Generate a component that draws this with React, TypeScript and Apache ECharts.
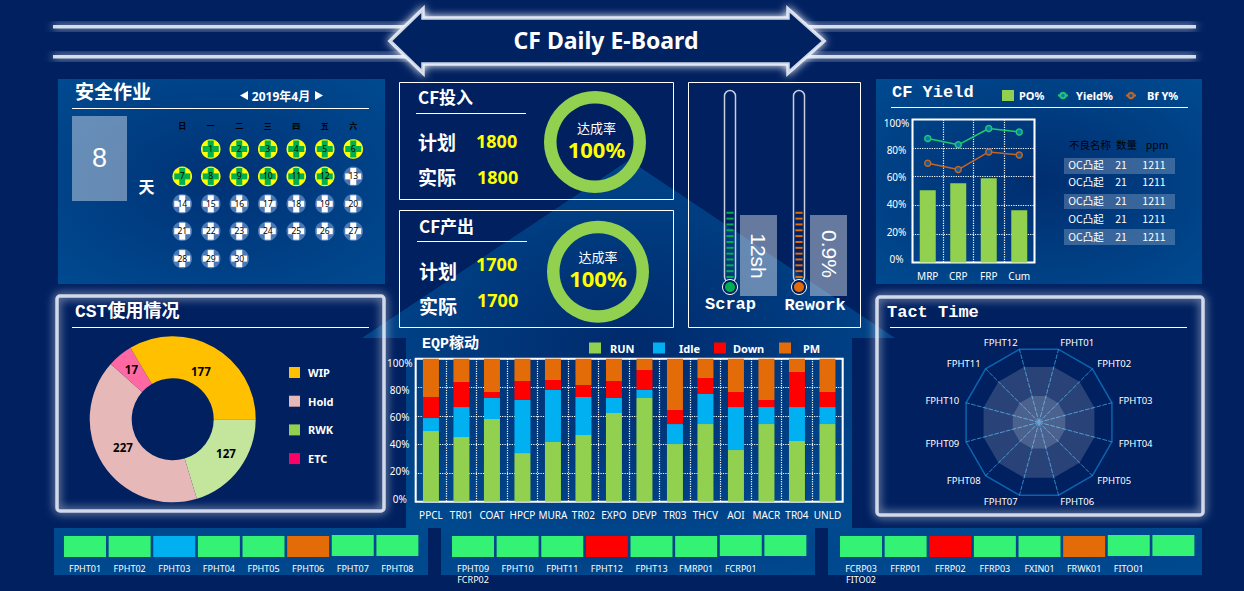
import React, { useEffect, useRef } from "react";
import * as echarts from "echarts";

const SANS = '"Noto Sans", "Noto Sans CJK SC", sans-serif';
const CJK = '"Noto Sans CJK SC", "Noto Sans", sans-serif';
const MONO = '"Liberation Mono", "Noto Sans CJK SC", monospace';

// ---- data ----
const weekHeaders = ["日", "一", "二", "三", "四", "五", "六"];
const weekRows = ["w1", "w2", "w3", "w4", "w5"];
const calendarRows: (number | null)[][] = [
  [null, 1, 2, 3, 4, 5, 6],
  [7, 8, 9, 10, 11, 12, 13],
  [14, 15, 16, 17, 18, 19, 20],
  [21, 22, 23, 24, 25, 26, 27],
  [28, 29, 30, null, null, null, null],
];
const lastSafeDay = 12;

const inputRate = [1800, 0];
const outputRate = [1700, 0];

const thermoNames = ["Scrap", "Rework"];
const thermoLevels = [35, 35];

const yieldCats = ["MRP", "CRP", "FRP", "Cum"];
const poValues = [50.5, 55.5, 59, 36.5];
const yieldValues = [86.7, 82.3, 93.7, 91.3];
const bfValues = [69.4, 65, 77.3, 75.2];

const defectHeader = ["不良名称", "数量", "ppm"];
const defectRows = [
  ["OC凸起", "21", "1211"],
  ["OC凸起", "21", "1211"],
  ["OC凸起", "21", "1211"],
  ["OC凸起", "21", "1211"],
  ["OC凸起", "21", "1211"],
];

const cstNames = ["RWK", "Hold", "ETC", "WIP"];
const cstLabels = [127, 227, 17, 177];
const cstDrawnShare = [20.3, 41.3, 4.9, 33.5];
const cstLabelNudges = [[1, -4], [5, -7], [0, 0], [-4, 9]];

const eqpCats = ["PPCL", "TR01", "COAT", "HPCP", "MURA", "TR02", "EXPO", "DEVP", "TR03", "THCV", "AOI", "MACR", "TR04", "UNLD"];
const eqpRun = [49.4, 45.2, 57.8, 34, 41.7, 46.6, 62, 72.5, 40.3, 54.3, 36.1, 54.3, 42.4, 54.3];
const eqpIdle = [9.1, 21, 14.7, 37.1, 36.4, 26.6, 10.5, 5.6, 14, 21, 30.1, 11.9, 23.8, 11.9];
const eqpDown = [14.7, 17.5, 4.2, 13.3, 7, 8.4, 11.9, 14, 9.8, 11.2, 10.5, 4.9, 24.5, 10.5];
const eqpPm = [26.8, 16.3, 23.3, 15.6, 14.9, 18.4, 15.6, 7.9, 35.9, 13.5, 23.3, 28.9, 9.3, 23.3];

const radarNames = ["FPHT01", "FPHT02", "FPHT03", "FPHT04", "FPHT05", "FPHT06", "FPHT07", "FPHT08", "FPHT09", "FPHT10", "FPHT11", "FPHT12"];
const tactOuter = [76, 76, 76, 76, 76, 76, 76, 76, 76, 76, 76, 76];
const tactInner = [36, 36, 36, 36, 36, 36, 36, 36, 36, 36, 36, 36];

const stripOneNames = ["FPHT01", "FPHT02", "FPHT03", "FPHT04", "FPHT05", "FPHT06", "FPHT07", "FPHT08"];
const stripOneStates = ["run", "run", "idle", "run", "run", "pm", "run", "run"];
const stripTwoNames = ["FPHT09\nFCRP02", "FPHT10", "FPHT11", "FPHT12", "FPHT13", "FMRP01", "FCRP01", ""];
const stripTwoStates = ["run", "run", "run", "down", "run", "run", "run", "run"];
const stripThreeNames = ["FCRP03\nFITO02", "FFRP01", "FFRP02", "FFRP03", "FXIN01", "FRWK01", "FITO01", ""];
const stripThreeStates = ["run", "run", "down", "run", "run", "pm", "run", "run"];

const stateColors: Record<string, string> = { run: "#33F274", idle: "#00B0F0", down: "#FF0000", pm: "#E36C09" };
const NAVY = "#002060";

// ---- helpers ----
const txt = (text: string, x: number, y: number, font: string, fill = "#fff", align = "center", rotation = 0) => ({
  type: "text", x, y: font.includes(CJK) ? y - 1.5 : y, rotation, z: 20, silent: true,
  style: { text, font, fill, align, verticalAlign: "middle" },
});
const hline = (x1: number, x2: number, y: number) => ({
  type: "line", z: -5, silent: true, shape: { x1, y1: y, x2, y2: y }, style: { stroke: "#fff", lineWidth: 1 },
});
const box = (x: number, y: number, width: number, height: number, style: any, z = -6, r = 0) => ({
  type: "rect", z, silent: true, shape: { x, y, width, height, r }, style,
});
const panelFill = (inner: string, outer: string, rr = 0.7) =>
  new echarts.graphic.RadialGradient(0.5, 0.5, rr, [
    { offset: 0, color: inner },
    { offset: 1, color: outer },
  ]);
const glow = { stroke: "rgba(235,240,250,0.85)", lineWidth: 3.5, shadowBlur: 10, shadowColor: "#ffffff", fill: "none" };

const buildGraphic = () => {
  const els: any[] = [];
  // backdrop wedge with the EQP panel
  els.push({
    type: "polygon", z: -9, silent: true,
    shape: { points: [[629, 160], [895, 338], [852, 338], [852, 528], [406, 528], [406, 338], [362, 338]] },
    style: { fill: panelFill("#002A6C", "#004A90", 0.62) },
  });
  // header lines and arrow
  [25, 55].forEach((y) =>
    els.push(box(53, y, 1143, 3.5, { fill: "rgba(235,240,250,0.88)", shadowBlur: 8, shadowColor: "#ffffff" }, -8))
  );
  els.push({
    type: "polygon", z: -7, silent: true,
    shape: { points: [[390, 41], [423, 9], [423, 18], [788, 18], [788, 9], [824, 41], [788, 73], [788, 64], [423, 64], [423, 73]] },
    style: { fill: NAVY, stroke: "rgba(235,240,250,0.88)", lineWidth: 3.5, shadowBlur: 8, shadowColor: "#ffffff", lineJoin: "miter" },
  });
  els.push(txt("CF Daily E-Board", 606, 40, `bold 23px ${SANS}`));

  // panels
  els.push(box(58, 79, 327, 205, { fill: panelFill("#003276", "#004A90") }, -9));
  els.push(box(876, 79, 326, 205, { fill: panelFill("#002E70", "#004A90") }, -9));
  els.push(box(54, 528, 374, 47, { fill: panelFill("#00448A", "#004A90") }, -9));
  els.push(box(441, 528, 374, 47, { fill: panelFill("#003F84", "#004A90") }, -9));
  els.push(box(828, 528, 374, 47, { fill: panelFill("#00448A", "#004A90") }, -9));
  els.push(box(57, 296, 327, 215, glow, -5, 3));
  els.push(box(877, 297, 326, 218, glow, -5, 3));
  const thin = { stroke: "#fff", lineWidth: 1, fill: "none" };
  els.push(box(399.5, 82.5, 274, 117, thin, -5));
  els.push(box(399.5, 210.5, 274, 117, thin, -5));
  els.push(box(688.5, 82.5, 172, 245, thin, -5));

  // panel titles
  els.push(txt("安全作业", 75, 92, `bold 19px ${CJK}`, "#fff", "left"), hline(72, 369, 108.5));
  els.push(txt("CF Yield", 892, 92, `bold 17px ${MONO}`, "#fff", "left"), hline(891, 1188, 107.5));
  els.push(txt("CST使用情况", 75, 312, `bold 18px ${MONO}`, "#fff", "left"), hline(72, 369, 327.5));
  els.push(txt("Tact Time", 887, 312, `bold 17px ${MONO}`, "#fff", "left"), hline(890, 1187, 327.5));
  els.push(txt("EQP稼动", 422, 344, `bold 15px ${MONO}`, "#fff", "left"));

  // safety counter
  els.push(txt("2019年4月", 281, 96, `bold 12px ${SANS}`));
  els.push({ type: "polygon", z: 20, silent: true, shape: { points: [[248, 91], [248, 100], [240, 95.5]] }, style: { fill: "#fff" } });
  els.push({ type: "polygon", z: 20, silent: true, shape: { points: [[315, 91], [315, 100], [323, 95.5]] }, style: { fill: "#fff" } });
  els.push(box(72, 116, 55, 85, { fill: "rgba(255,255,255,0.4)" }, -5));
  els.push(txt("8", 99.5, 158, `27px "Liberation Sans", sans-serif`));
  els.push(txt("天", 146.5, 187, `bold 16px ${CJK}`));

  // input / output blocks
  const block = (title: string, tx: number, ty: number, lx: number, ly: number, py: number, vy: number, ay: number, avy: number, val: string, rx: number, ry: number) => {
    els.push(txt(title, tx, ty, `bold 17px ${CJK}`, "#fff", "left"), hline(lx, lx + 110, ly));
    els.push(txt("计划", tx, py, `bold 19px ${CJK}`, "#fff", "left"));
    els.push(txt(val, 476, vy - 1, `bold 18px ${SANS}`, "#FFFF00", "left"));
    els.push(txt("实际", tx, ay, `bold 19px ${CJK}`, "#fff", "left"));
    els.push(txt(val, 477, avy - 1, `bold 18px ${SANS}`, "#FFFF00", "left"));
    els.push(txt("达成率", rx, ry - 13, `13px ${CJK}`));
    els.push(txt("100%", rx, ry + 7, `bold 22px ${SANS}`, "#FFFF00"));
  };
  block("CF投入", 418, 98, 416, 113.5, 143, 142, 178, 178, "1800", 596.5, 142);
  block("CF产出", 419, 227, 417, 241.5, 272, 265, 307, 301, "1700", 598, 271);

  // thermometers
  [730, 799].forEach((cx, i) => {
    els.push({ type: "rect", z: -4, silent: true, shape: { x: cx - 5.5, y: 90.5, width: 11, height: 192, r: 5.5 }, style: { stroke: "#C8D0E0", lineWidth: 1.5, fill: "none" } });
    els.push({ type: "circle", z: -3, silent: true, shape: { cx, cy: 287, r: 7.5 }, style: { fill: NAVY, stroke: "#fff", lineWidth: 1 } });
    els.push({ type: "circle", z: 6, silent: true, shape: { cx, cy: 287, r: 5 }, style: { fill: i === 0 ? "#00B050" : "#E36C09" } });
  });
  els.push(box(740, 215, 37, 81, { fill: "rgba(255,255,255,0.4)" }, -4));
  els.push(box(810, 215, 37, 81, { fill: "rgba(255,255,255,0.4)" }, -4));
  els.push(txt("12sh", 758.5, 256, `21px "Liberation Sans", sans-serif`, "#fff", "center", -Math.PI / 2));
  els.push(txt("0.9%", 829, 254, `21px "Liberation Sans", sans-serif`, "#fff", "center", -Math.PI / 2));
  els.push(txt(thermoNames[0], 730.5, 304, `bold 17px ${MONO}`));
  els.push(txt(thermoNames[1], 815, 305, `bold 17px ${MONO}`));

  // defect table
  const colX = [1086, 1121, 1154];
  const headX = [1090, 1126.5, 1157];
  defectHeader.forEach((h, i) => els.push(txt(h, headX[i], 146, `10.5px ${CJK}`, "#000")));
  const rowY = [166, 183, 202, 220, 238];
  [[158, 16], [194, 15], [229, 16]].forEach(([y, h]) => els.push(box(1064, y, 111, h, { fill: "rgba(255,255,255,0.22)" }, -4)));
  defectRows.forEach((row, r) => row.forEach((c, i) => els.push(txt(c, colX[i], rowY[r], `10.5px ${CJK}`))));
  return els;
};

const tileSeries = (gridIndex: number, states: string[]) => ({
  type: "custom",
  coordinateSystem: "cartesian2d",
  xAxisIndex: gridIndex,
  yAxisIndex: gridIndex,
  silent: true,
  data: states.map((s, i) => ({ value: [i, 1], itemStyle: { color: stateColors[s] } })),
  renderItem: (params: any, api: any) => {
    const idx = api.value(0);
    const top = api.coord([idx, 1]);
    const base = api.coord([idx, 0]);
    const raise = idx >= 6 ? 1 : 0;
    return {
      type: "rect",
      shape: { x: top[0] - 21, y: top[1] - raise, width: 42, height: base[1] - top[1] },
      style: { fill: stateColors[states[params.dataIndex]] },
    };
  },
});

const hiddenY = (gridIndex: number, extra: any = {}) => ({
  type: "value", gridIndex, show: false, min: 0, max: 1, ...extra,
});

const buildOption = () => {
  const dotted = { show: true, lineStyle: { color: "#fff", type: "dotted", width: 1.2 } };
  const plotX = (gridIndex: number, data: string[]) => ({
    type: "category", gridIndex, data,
    axisLine: { show: false }, axisTick: { show: false },
    splitLine: dotted,
    axisLabel: { color: "#fff", fontFamily: SANS, fontSize: 10, margin: 8, interval: 0 },
  });
  const plotY = (gridIndex: number) => ({
    type: "value", gridIndex, min: 0, max: 100, interval: 20,
    axisLine: { show: false }, axisTick: { show: false },
    splitLine: dotted,
    axisLabel: { show: false },
  });
  // the percent labels sit on a slightly tighter scale than the gridlines
  const labelY = (gridIndex: number) => ({
    type: "value", gridIndex, min: 0, max: 100, interval: 20,
    axisLine: { show: false }, axisTick: { show: false }, splitLine: { show: false },
    axisLabel: { color: "#fff", fontFamily: SANS, fontSize: 10, margin: 16, align: "center", formatter: "{value}%" },
  });
  const stripX = (gridIndex: number, data: string[]) => ({
    type: "category", gridIndex, data,
    axisLine: { show: false }, axisTick: { show: false }, splitLine: { show: false },
    axisLabel: { color: "#fff", fontFamily: SANS, fontSize: 9, margin: 6, interval: 0, lineHeight: 11, hideOverlap: false },
  });

  const calendarData: any[] = [];
  calendarRows.forEach((row, r) =>
    row.forEach((d, c) => {
      if (d !== null) calendarData.push([c, r, d]);
    })
  );

  const legendText = { color: "#fff", fontFamily: SANS, fontSize: 11, fontWeight: "bold" };
  const eqpLegend = [
    { name: "RUN", left: 589, pad: 4 },
    { name: "Idle", left: 653, pad: 9 },
    { name: "Down", left: 714, pad: 2 },
    { name: "PM", left: 779, pad: 7 },
  ];

  const eqpBar = (name: string, data: number[], color: string) => ({
    type: "bar", name, stack: "eqp", xAxisIndex: 1, yAxisIndex: 1, barWidth: 16, data, itemStyle: { color }, silent: true,
  });
  const ring = (center: number[], vals: number[]) => ({
    type: "pie", radius: [38.5, 51], center, silent: true, label: { show: false }, labelLine: { show: false },
    data: vals.map((value) => ({ value, itemStyle: { color: "#92D050" } })),
  });

  return {
    animation: false,
    backgroundColor: NAVY,
    textStyle: { fontFamily: SANS },
    graphic: { elements: buildGraphic() },
    tooltip: { show: false },
    legend: [
      { data: [{ name: "PO%", itemStyle: { color: "#92D050" }, icon: "rect" }], padding: 0, left: 1002, top: 90, itemWidth: 12, itemHeight: 11, selectedMode: false, textStyle: legendText },
      { data: ["Yield%"], padding: 0, left: 1057, top: 90, itemWidth: 10, itemHeight: 7, selectedMode: false, textStyle: { ...legendText, padding: [0, 0, 0, 3] } },
      { data: ["Bf Y%"], padding: 0, left: 1125, top: 90, itemWidth: 10, itemHeight: 7, selectedMode: false, textStyle: { ...legendText, padding: [0, 0, 0, 6] } },
      {
        data: [
          { name: "WIP", itemStyle: { color: "#FFC000" } },
          { name: "Hold", itemStyle: { color: "#E6B8B7" } },
          { name: "RWK", itemStyle: { color: "#92D050" } },
          { name: "ETC", itemStyle: { color: "#FF0066" } },
        ],
        padding: 0, orient: "vertical", left: 289, top: 367, itemWidth: 11, itemHeight: 11, itemGap: 17.7, icon: "rect", selectedMode: false,
        textStyle: { ...legendText, padding: [0, 0, 0, 3] },
      },
      ...eqpLegend.map((l) => ({
        data: [l.name], padding: 0, left: l.left, top: 342.5, itemWidth: 12, itemHeight: 11, icon: "rect", selectedMode: false,
        textStyle: { ...legendText, padding: [3, 0, 0, l.pad] },
      })),
    ],
    grid: [
      { left: 912.5, top: 119.5, width: 122, height: 143, show: true, borderColor: "#fff", borderWidth: 2, backgroundColor: "transparent" },
      { left: 415.7, top: 358.7, width: 427, height: 143, show: true, borderColor: "#fff", borderWidth: 2, backgroundColor: "transparent" },
      { left: 168, top: 135.3, width: 199.5, height: 137 },
      { left: 695.5, top: 95, width: 138, height: 183 },
      { left: 62.7, top: 536, width: 357, height: 21 },
      { left: 450.7, top: 536, width: 357, height: 21 },
      { left: 838.7, top: 536, width: 357, height: 21 },
      { left: 912.5, top: 122.7, width: 122, height: 136 },
      { left: 415.7, top: 362.5, width: 427, height: 136 },
    ],
    xAxis: [
      plotX(0, yieldCats),
      plotX(1, eqpCats),
      {
        type: "category", gridIndex: 2, data: weekHeaders, position: "top",
        axisLine: { show: false }, axisTick: { show: false }, splitLine: { show: false },
        axisLabel: { color: "#000", fontFamily: CJK, fontSize: 8, fontWeight: "bold", margin: 6, interval: 0 },
      },
      { type: "category", gridIndex: 3, data: thermoNames, show: false },
      stripX(4, stripOneNames),
      stripX(5, stripTwoNames),
      stripX(6, stripThreeNames),
      { type: "category", gridIndex: 7, data: yieldCats, show: false },
      { type: "category", gridIndex: 8, data: eqpCats, show: false },
    ],
    yAxis: [
      plotY(0),
      plotY(1),
      { type: "category", gridIndex: 2, data: weekRows, inverse: true, show: false },
      { type: "value", gridIndex: 3, min: 0, max: 100, show: false },
      hiddenY(4),
      hiddenY(5),
      hiddenY(6),
      labelY(7),
      labelY(8),
    ],
    radar: {
      center: [1039, 422.3], radius: 75.5, startAngle: 75, splitNumber: 1, shape: "polygon", nameGap: 7,
      // the library lays indicators out counter-clockwise; the chart reads clockwise
      indicator: [radarNames[0], ...radarNames.slice(1).reverse()].map((name) => ({ name, max: 100, min: 0 })),
      axisName: { color: "#fff", fontFamily: SANS, fontSize: 9.5 },
      splitArea: { show: false },
      splitLine: { lineStyle: { color: "#0A63AE", width: 1.5 } },
      axisLine: { lineStyle: { color: "#2E86C8", type: "dashed" } },
    },
    series: [
      // yield
      { type: "bar", name: "PO%", xAxisIndex: 0, yAxisIndex: 0, barWidth: 16, data: poValues, itemStyle: { color: "#92D050" }, silent: true },
      {
        type: "line", name: "Yield%", xAxisIndex: 0, yAxisIndex: 0, data: yieldValues, symbol: "circle", symbolSize: 6, silent: true,
        lineStyle: { color: "#1ECB6A", width: 1.5 }, itemStyle: { color: "#0B79B8", borderColor: "#1ECB6A", borderWidth: 1.5 },
      },
      {
        type: "line", name: "Bf Y%", xAxisIndex: 0, yAxisIndex: 0, data: bfValues, symbol: "circle", symbolSize: 6, silent: true,
        lineStyle: { color: "#C8641E", width: 1.5 }, itemStyle: { color: "#0B5CA0", borderColor: "#C8641E", borderWidth: 1.5 },
      },
      // EQP
      eqpBar("RUN", eqpRun, "#92D050"),
      eqpBar("Idle", eqpIdle, "#00B0F0"),
      eqpBar("Down", eqpDown, "#FF0000"),
      eqpBar("PM", eqpPm, "#E36C09"),
      // CST donut
      {
        type: "pie", center: [172.7, 419.3], radius: [41, 83], startAngle: 0, clockwise: true, silent: true,
        label: { show: true, position: "inside", color: "#000", fontFamily: SANS, fontSize: 11.5, fontWeight: "bold" },
        labelLine: { show: false },
        data: cstNames.map((name, i) => ({
          name,
          value: cstDrawnShare[i],
          label: { formatter: String(cstLabels[i]), offset: cstLabelNudges[i] },
          itemStyle: { color: ["#C4E59C", "#E6B8B7", "#FF69A3", "#FFC000"][i] },
        })),
      },
      // achievement rings
      ring([595, 142], inputRate),
      ring([598, 271.7], outputRate),
      // calendar
      {
        type: "custom", coordinateSystem: "cartesian2d", xAxisIndex: 2, yAxisIndex: 2, silent: true, data: calendarData,
        renderItem: (_p: any, api: any) => {
          const [x, y] = api.coord([api.value(0), api.value(1)]);
          const day = api.value(2);
          const safe = day <= lastSafeDay;
          const bg = safe ? "#FFFF00" : "#4A78B4";
          const arm = safe ? "#00B050" : "#FFFFFF";
          return {
            type: "group",
            children: [
              { type: "circle", shape: { cx: x, cy: y, r: 9.8 }, style: { fill: bg } },
              { type: "rect", shape: { x: x - 8, y: y - 3, width: 16, height: 6 }, style: { fill: arm } },
              { type: "rect", shape: { x: x - 3, y: y - 8.5, width: 6, height: 17 }, style: { fill: arm } },
              { type: "text", x, y: y - 0.5, style: { text: String(day), fill: "#000", font: `8.5px ${SANS}`, align: "center", verticalAlign: "middle" } },
            ],
          };
        },
      },
      // thermometers
      {
        type: "pictorialBar", xAxisIndex: 3, yAxisIndex: 3, silent: true, symbol: "rect", symbolRepeat: true, symbolSize: [7, 2], symbolMargin: 2, z: 5,
        data: thermoLevels.map((value, i) => ({ value, itemStyle: { color: i === 0 ? "#00B050" : "#E36C09" } })),
      },
      // tact radar
      {
        type: "radar", silent: true, symbol: "none", lineStyle: { width: 0, opacity: 0 },
        areaStyle: { color: "rgba(255,255,255,0.16)", opacity: 1 },
        data: [{ value: tactOuter }, { value: tactInner }],
      },
      // status tiles
      tileSeries(4, stripOneStates),
      tileSeries(5, stripTwoStates),
      tileSeries(6, stripThreeStates),
    ],
  };
};

export default function App() {
  const ref = useRef<HTMLDivElement>(null);
  useEffect(() => {
    document.body.style.margin = "0";
    document.body.style.background = NAVY;
    const chart = echarts.init(ref.current!, null, { renderer: "svg" });
    chart.setOption(buildOption() as any);
    return () => chart.dispose();
  }, []);
  return <div ref={ref} style={{ width: 1244, height: 591 }} />;
}
